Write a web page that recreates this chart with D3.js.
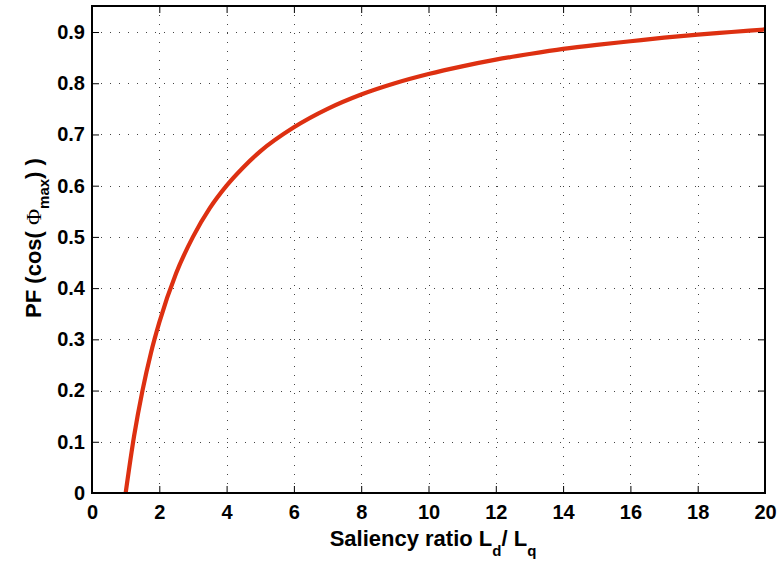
<!DOCTYPE html>
<html>
<head>
<meta charset="utf-8">
<script src="https://cdn.jsdelivr.net/npm/d3@7"></script>
<style>
  html, body { margin: 0; padding: 0; background: #fff; }
  svg { display: block; font-family: "Liberation Sans", Arial, sans-serif; }
</style>
</head>
<body>
<svg id="chart" width="780" height="563"></svg>
<script>
// Saliency ratio Ld/Lq and the resulting maximum power factor
const saliency = [1, 1.25, 1.5, 1.75, 2, 2.5, 3, 3.5, 4, 4.5, 5, 6, 7, 8, 9, 10, 11, 12, 13, 14, 15, 16, 17, 18, 19, 20];
const powerFactor = [0, 0.111, 0.2, 0.273, 0.333, 0.429, 0.5, 0.556, 0.6, 0.636, 0.667, 0.714, 0.75, 0.778, 0.8, 0.818, 0.833, 0.846, 0.857, 0.867, 0.875, 0.882, 0.889, 0.895, 0.9, 0.905];
const xTicks = [0, 2, 4, 6, 8, 10, 12, 14, 16, 18, 20];
const yTicks = [0, 0.1, 0.2, 0.3, 0.4, 0.5, 0.6, 0.7, 0.8, 0.9];

const svg = d3.select("#chart");
const plotL = 92, plotR = 765, plotT = 6, plotB = 493;

const x = d3.scaleLinear().domain([0, 20]).range([plotL, plotR]);
const y = d3.scaleLinear().domain([0, 0.9508]).range([plotB, plotT]);

// dotted grid
const grid = svg.append("g").attr("stroke", "#444").attr("stroke-width", 1)
  .attr("stroke-dasharray", "1,8");
grid.selectAll("line.gx").data(xTicks.slice(1, -1)).join("line")
  .attr("x1", d => Math.round(x(d)) + 0.5).attr("x2", d => Math.round(x(d)) + 0.5)
  .attr("y1", plotB).attr("y2", plotT);
grid.selectAll("line.gy").data(yTicks.slice(1)).join("line")
  .attr("x1", plotL).attr("x2", plotR)
  .attr("y1", d => Math.round(y(d)) + 0.5).attr("y2", d => Math.round(y(d)) + 0.5);

// curve
const line = d3.line().x((d, i) => x(saliency[i])).y(d => y(d)).curve(d3.curveMonotoneX);
svg.append("path").datum(powerFactor)
  .attr("d", line).attr("fill", "none")
  .attr("stroke", "#dd3011").attr("stroke-width", 4.2)
  .attr("stroke-linejoin", "round");

// axes: inward ticks on all four sides, boxed
const tickLen = 7;
const xAxis = d3.axisBottom(x).tickValues(xTicks).tickSize(-tickLen).tickPadding(12).tickFormat(d3.format("d"));
const yAxis = d3.axisLeft(y).tickValues(yTicks).tickSize(-tickLen).tickPadding(7).tickFormat(d => d === 0 ? "0" : d3.format(".1f")(d));
const xTop = d3.axisTop(x).tickValues(xTicks).tickSize(-tickLen).tickFormat("");
const yRight = d3.axisRight(y).tickValues(yTicks).tickSize(-tickLen).tickFormat("");

function style(g) {
  g.select(".domain").remove();
  g.selectAll(".tick line").attr("stroke", "#000").attr("stroke-width", 1);
  g.selectAll("text").attr("fill", "#000").attr("font-size", 20).attr("font-weight", "bold");
}
svg.append("g").attr("transform", `translate(0,${plotB})`).call(xAxis).call(style);
svg.append("g").attr("transform", `translate(${plotL},0)`).call(yAxis).call(style);
svg.append("g").attr("transform", `translate(0,${plotT})`).call(xTop).call(style);
svg.append("g").attr("transform", `translate(${plotR},0)`).call(yRight).call(style);

svg.append("rect").attr("x", plotL).attr("y", plotT)
  .attr("width", plotR - plotL).attr("height", plotB - plotT)
  .attr("fill", "none").attr("stroke", "#000").attr("stroke-width", 2);

// axis titles
const xt = svg.append("text").attr("x", 433).attr("y", 546)
  .attr("text-anchor", "middle").attr("font-size", 22).attr("font-weight", "bold");
xt.append("tspan").text("Saliency ratio L");
xt.append("tspan").attr("font-size", 15).attr("dy", 10).text("d");
xt.append("tspan").attr("dy", -10).text("/ L");
xt.append("tspan").attr("font-size", 15).attr("dy", 10).text("q");

const yt = svg.append("text").attr("transform", "translate(41,238) rotate(-90)")
  .attr("text-anchor", "middle").attr("font-size", 22).attr("font-weight", "bold");
yt.append("tspan").text("PF (cos( ");
yt.append("tspan").attr("font-family", "'Liberation Serif', serif").attr("font-weight", "normal").text("Φ");
yt.append("tspan").attr("font-size", 15).attr("dy", 8).text("max");
yt.append("tspan").attr("dy", -8).text(") )");
</script>
</body>
</html>
